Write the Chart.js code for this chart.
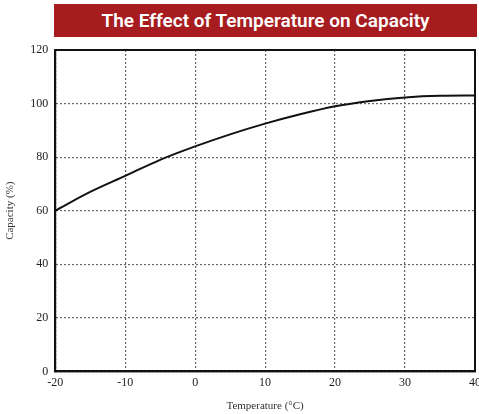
<!DOCTYPE html>
<html>
<head>
<meta charset="utf-8">
<script src="https://cdn.jsdelivr.net/npm/chart.js@4"></script>
<style>
  body { margin: 0; background: #fff; overflow: hidden; width: 479px; height: 414px; position: relative; }
  #banner {
    position: absolute; left: 54px; top: 4px; width: 423px; height: 33px;
    background: #a61c1f; color: #fff; font-family: Roboto, sans-serif; font-weight: 600;
    font-size: 19px; line-height: 33px; text-align: center; z-index: 2;
  }
  #wrap { position: absolute; left: 0; top: 0; width: 485px; height: 414px; }
</style>
</head>
<body>
<div id="banner">The Effect of Temperature on Capacity</div>
<div id="wrap"><canvas id="chart"></canvas></div>
<script>
// temperature (°C) and capacity (%)
const temperatures = [-20, -15, -10, -5, 0, 5, 10, 15, 20, 25, 30, 35, 40];
const capacity = [60, 67, 73, 79, 84, 88.5, 92.5, 96, 99, 101, 102.3, 102.9, 103];

const xTitle = 'Temperature (°C)';
const yTitle = 'Capacity (%)';

const serif = "'Liberation Serif', 'Times New Roman', serif";

// draws the solid frame around the plot area
const framePlugin = {
    id: 'frame',
    afterDraw(chart) {
        const a = chart.chartArea;
        const ctx = chart.ctx;
        ctx.save();
        ctx.strokeStyle = '#111';
        ctx.lineWidth = 2;
        ctx.strokeRect(a.left, a.top, a.right - a.left, a.bottom - a.top);
        ctx.restore();
    }
};

new Chart(document.getElementById('chart'), {
    type: 'line',
    data: {
        datasets: [{
            data: temperatures.map((t, i) => ({ x: t, y: capacity[i] })),
            borderColor: '#111',
            borderWidth: 2,
            pointRadius: 0,
            cubicInterpolationMode: 'monotone',
            fill: false
        }]
    },
    options: {
        responsive: true,
        maintainAspectRatio: false,
        animation: false,
        layout: { padding: { top: 50, left: 4, right: 0, bottom: 1 } },
        plugins: { legend: { display: false }, tooltip: { enabled: false } },
        scales: {
            x: {
                type: 'linear',
                min: -20, max: 40,
                ticks: { stepSize: 10, color: '#222', font: { family: serif, size: 12 }, padding: 4 },
                grid: { color: '#666', lineWidth: 1.2, drawTicks: false },
                border: { color: '#111', width: 2, dash: [2, 2] },
                title: { display: true, text: xTitle, color: '#333', font: { family: serif, size: 11 }, padding: { top: 6, bottom: 0 } }
            },
            y: {
                min: 0, max: 120,
                ticks: { stepSize: 20, color: '#222', font: { family: serif, size: 12 }, padding: 7 },
                grid: { color: '#666', lineWidth: 1.2, drawTicks: false },
                border: { color: '#111', width: 2, dash: [2, 2] },
                title: { display: true, text: yTitle, color: '#333', font: { family: serif, size: 11 }, padding: { top: 0, bottom: 6 } }
            }
        }
    },
    plugins: [framePlugin]
});
</script>
</body>
</html>
